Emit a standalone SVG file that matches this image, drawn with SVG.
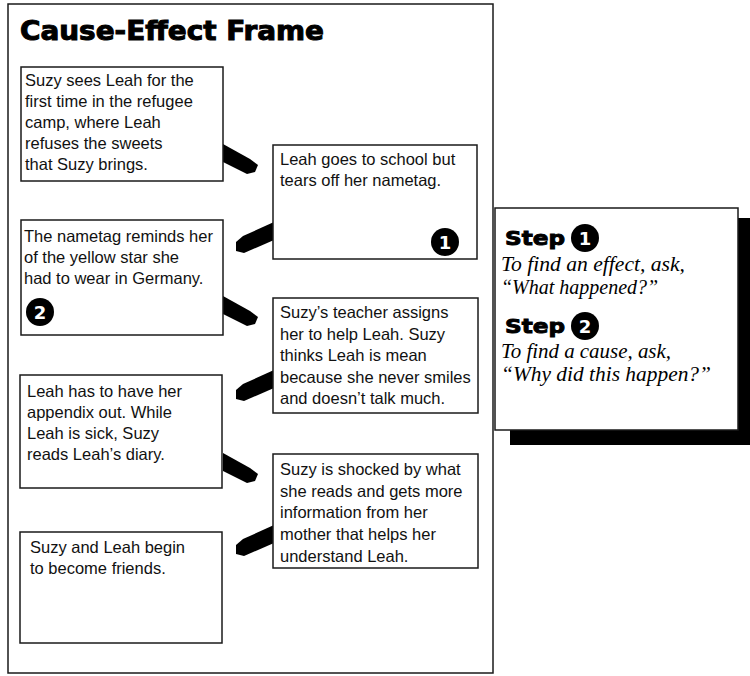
<svg xmlns="http://www.w3.org/2000/svg" width="750" height="676" viewBox="0 0 750 676">
<style>
.box{fill:#fff;stroke:#1a1a1a;stroke-width:1.5}
.t{font-family:"Liberation Sans","DejaVu Sans",sans-serif;font-size:16.5px;fill:#111}
.conn{fill:#000}
.badge{fill:#000}
.bn{font-family:"DejaVu Sans","Liberation Sans",sans-serif;font-weight:bold;font-size:18px;fill:#fff;text-anchor:middle}
.step{font-family:"DejaVu Sans","Liberation Sans",sans-serif;font-weight:900;font-size:19px;fill:#000;stroke:#000;stroke-width:0.9}
.it{font-family:"Liberation Serif","DejaVu Serif",serif;font-style:italic;font-size:20px;fill:#000}
</style>
<rect x="0" y="0" width="750" height="676" fill="#fff"/>
<g id="frame">
<rect x="8" y="4" width="485" height="669" fill="#fff" stroke="#1a1a1a" stroke-width="1.5"/>
<text x="20" y="40" font-family="'DejaVu Sans','Liberation Sans',sans-serif" font-weight="bold" font-size="26" textLength="304" lengthAdjust="spacingAndGlyphs" fill="#000" stroke="#000" stroke-width="1">Cause-Effect Frame</text>
</g>
<g id="connectors">
<polygon class="conn" points="223,144 250,159 258,165 255,172 247,174 223,162"/>
<polygon class="conn" points="274,222 243,236 236,242 236,251 244,253 274,240"/>
<polygon class="conn" points="223,296 250,311 258,317 255,324 247,326 223,314"/>
<polygon class="conn" points="274,370 243,384 236,390 236,399 244,401 274,388"/>
<polygon class="conn" points="223,453 250,468 258,474 255,481 247,483 223,471"/>
<polygon class="conn" points="274,525 243,539 236,545 236,554 244,556 274,543"/>
</g>
<g id="box1">
<rect class="box" x="21" y="67" width="202" height="114"/>
<text class="t" x="25" y="86">Suzy sees Leah for the</text>
<text class="t" x="25" y="107">first time in the refugee</text>
<text class="t" x="25" y="128">camp, where Leah</text>
<text class="t" x="25" y="149">refuses the sweets</text>
<text class="t" x="25" y="170">that Suzy brings.</text>
</g>
<g id="box2">
<rect class="box" x="273" y="145" width="204" height="114"/>
<text class="t" x="280" y="165">Leah goes to school but</text>
<text class="t" x="280" y="186">tears off her nametag.</text>
<circle class="badge" cx="445" cy="242" r="14"/>
<text class="bn" x="445" y="248.5">1</text>
</g>
<g id="box3">
<rect class="box" x="21" y="220" width="202" height="115"/>
<text class="t" x="24" y="242">The nametag reminds her</text>
<text class="t" x="24" y="263">of the yellow star she</text>
<text class="t" x="24" y="284">had to wear in Germany.</text>
<circle class="badge" cx="40" cy="312" r="14"/>
<text class="bn" x="40" y="318.5">2</text>
</g>
<g id="box4">
<rect class="box" x="273" y="298" width="205" height="115"/>
<text class="t" x="280" y="318">Suzy’s teacher assigns</text>
<text class="t" x="280" y="339.5">her to help Leah. Suzy</text>
<text class="t" x="280" y="361">thinks Leah is mean</text>
<text class="t" x="280" y="382.5">because she never smiles</text>
<text class="t" x="280" y="404">and doesn’t talk much.</text>
</g>
<g id="box5">
<rect class="box" x="20" y="375" width="202" height="113"/>
<text class="t" x="27" y="397">Leah has to have her</text>
<text class="t" x="27" y="418">appendix out. While</text>
<text class="t" x="27" y="439">Leah is sick, Suzy</text>
<text class="t" x="27" y="460">reads Leah’s diary.</text>
</g>
<g id="box6">
<rect class="box" x="273" y="454" width="205" height="114"/>
<text class="t" x="280" y="475">Suzy is shocked by what</text>
<text class="t" x="280" y="497">she reads and gets more</text>
<text class="t" x="280" y="518">information from her</text>
<text class="t" x="280" y="540">mother that helps her</text>
<text class="t" x="280" y="562">understand Leah.</text>
</g>
<g id="box7">
<rect class="box" x="20" y="532" width="202" height="111"/>
<text class="t" x="30" y="553">Suzy and Leah begin</text>
<text class="t" x="30" y="574">to become friends.</text>
</g>
<g id="steps">
<rect x="510" y="218" width="240" height="227" fill="#000"/>
<rect x="495" y="208" width="243" height="222" fill="#fff" stroke="#1a1a1a" stroke-width="1.5"/>
<text class="step" x="505" y="245" textLength="60" lengthAdjust="spacingAndGlyphs">Step</text>
<circle class="badge" cx="585" cy="238" r="14"/>
<text class="bn" x="585" y="244.5">1</text>
<text class="it" x="501" y="271" textLength="184" lengthAdjust="spacingAndGlyphs">To find an effect, ask,</text>
<text class="it" x="501" y="294">“What happened?”</text>
<text class="step" x="505" y="333" textLength="60" lengthAdjust="spacingAndGlyphs">Step</text>
<circle class="badge" cx="585" cy="326" r="14"/>
<text class="bn" x="585" y="332.5">2</text>
<text class="it" x="501" y="358" textLength="170" lengthAdjust="spacingAndGlyphs">To find a cause, ask,</text>
<text class="it" x="501" y="381" textLength="210" lengthAdjust="spacingAndGlyphs">“Why did this happen?”</text>
</g>
</svg>
